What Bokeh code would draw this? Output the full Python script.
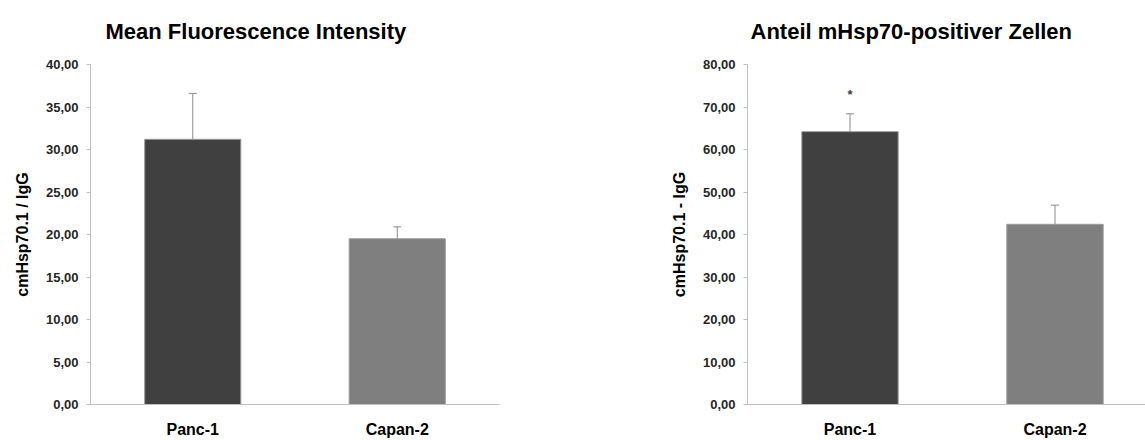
from bokeh.plotting import figure
from bokeh.layouts import row
from bokeh.models import ColumnDataSource, FixedTicker, Whisker, TeeHead, Label, Range1d
from bokeh.embed import file_html
from bokeh.resources import INLINE

categories = ["Panc-1", "Capan-2"]
mfi_values = [31.2, 19.5]
mfi_errors = [5.4, 1.4]
pos_values = [64.2, 42.4]
pos_errors = [4.2, 4.5]
bar_colors = ["#404040", "#7f7f7f"]
mfi_ticks = [0, 5, 10, 15, 20, 25, 30, 35, 40]
mfi_tick_labels = ["0,00", "5,00", "10,00", "15,00", "20,00", "25,00", "30,00", "35,00", "40,00"]
pos_ticks = [0, 10, 20, 30, 40, 50, 60, 70, 80]
pos_tick_labels = ["0,00", "10,00", "20,00", "30,00", "40,00", "50,00", "60,00", "70,00", "80,00"]
significance = ["*", ""]

FONT = "Liberation Sans"


def make_chart(values, errors, ticks, tick_labels, title, ylabel, width, left, right, xend, title_offset, marks=None):
    xs = [i + 0.5 for i in range(len(categories))]
    src = ColumnDataSource(dict(
        x=xs, top=values, color=bar_colors,
        upper=[v + e for v, e in zip(values, errors)],
        lower=values,
    ))
    p = figure(width=width, height=440, output_backend="svg", toolbar_location=None,
               x_range=Range1d(0, xend), y_range=Range1d(ticks[0], ticks[-1]),
               min_border_left=left, min_border_right=right,
               min_border_top=0, min_border_bottom=36)
    p.outline_line_color = None
    p.grid.visible = False
    p.vbar(x="x", top="top", width=0.47, fill_color="color", line_color="#9a9a9a",
           line_width=1, source=src)
    w = Whisker(base="x", upper="upper", lower="lower", source=src,
                line_color="#8c8c8c", line_width=1,
                upper_head=TeeHead(size=8, line_color="#8c8c8c", line_width=1),
                lower_head=None)
    p.add_layout(w)

    p.title.text = title
    p.title.text_font = FONT
    p.title.text_font_style = "bold"
    p.title.text_font_size = "22px"
    p.title.text_color = "#000000"
    p.title.align = "left"
    p.title.offset = title_offset
    p.title.standoff = 37
    p.title.vertical_align = "top"

    ya = p.yaxis[0]
    ya.ticker = FixedTicker(ticks=ticks)
    ya.major_label_overrides = {t: l for t, l in zip(ticks, tick_labels)}
    ya.axis_line_color = "#bfbfbf"
    ya.major_tick_line_color = "#bfbfbf"
    ya.major_tick_out = 4
    ya.major_tick_in = 0
    ya.minor_tick_line_color = None
    ya.major_label_standoff = 8
    ya.major_label_text_font = FONT
    ya.major_label_text_font_style = "bold"
    ya.major_label_text_font_size = "13px"
    ya.major_label_text_color = "#262626"
    ya.axis_label = ylabel
    ya.axis_label_text_font = FONT
    ya.axis_label_text_font_style = "bold"
    ya.axis_label_text_font_size = "16px"
    ya.axis_label_text_color = "#000000"
    ya.axis_label_standoff = 12

    xa = p.xaxis[0]
    xa.ticker = FixedTicker(ticks=xs)
    xa.major_label_overrides = {x: c for x, c in zip(xs, categories)}
    xa.axis_line_color = "#bfbfbf"
    xa.major_tick_line_color = None
    xa.minor_tick_line_color = None
    xa.major_tick_out = 0
    xa.major_label_standoff = 16
    xa.major_label_text_font = FONT
    xa.major_label_text_font_style = "bold"
    xa.major_label_text_font_size = "16px"
    xa.major_label_text_color = "#000000"

    span = ticks[-1] - ticks[0]
    if marks:
        for x, v, e, m in zip(xs, values, errors, marks):
            if m:
                p.add_layout(Label(x=x, y=v + e + span * 19 / 340, text=m,
                                   text_font=FONT, text_font_style="bold", text_font_size="13px",
                                   text_align="center", text_baseline="middle",
                                   text_color="#404040"))
    return p


p1 = make_chart(mfi_values, mfi_errors, mfi_ticks, mfi_tick_labels,
                "Mean Fluorescence Intensity", "cmHsp70.1 / IgG",
                652, 90, 153, 2.0, 15)
p2 = make_chart(pos_values, pos_errors, pos_ticks, pos_tick_labels,
                "Anteil mHsp70-positiver Zellen", "cmHsp70.1 - IgG",
                493, 95, 0, 398 / 205, 3, marks=significance)

layout = row(p1, p2)
open("out.html", "w").write(file_html(layout, INLINE))
